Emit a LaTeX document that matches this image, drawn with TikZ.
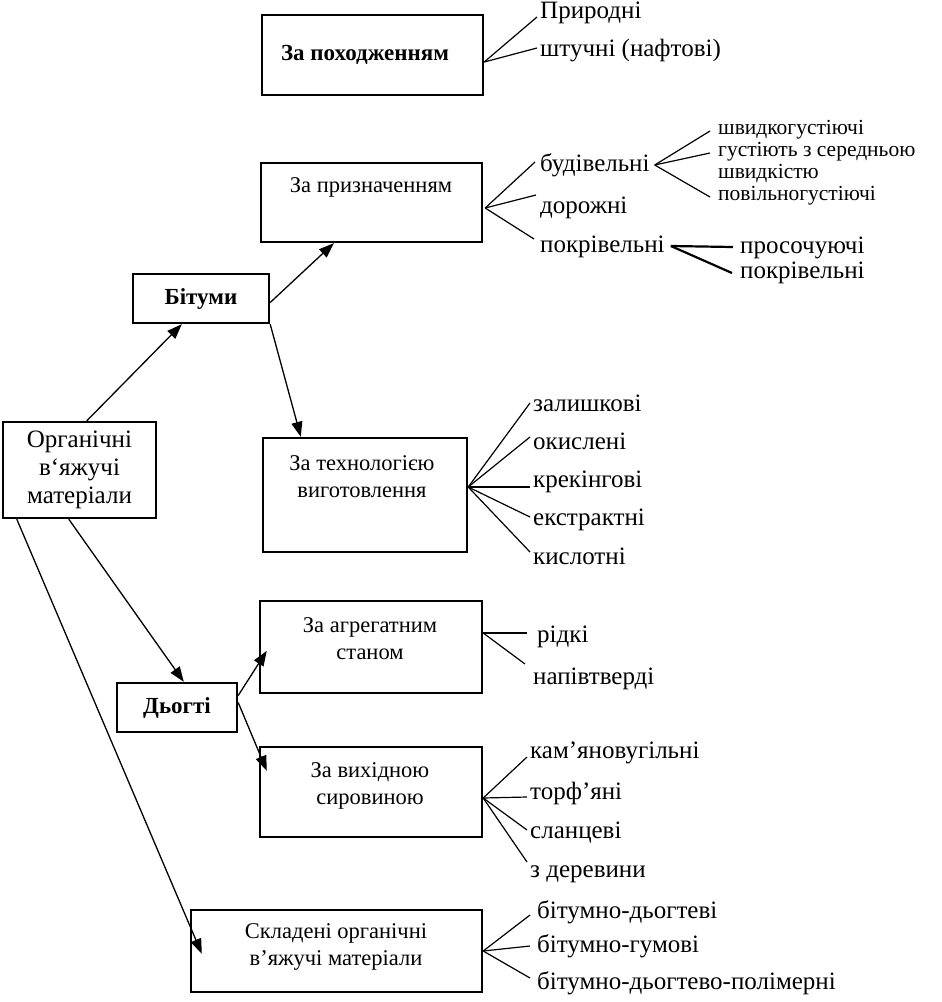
\documentclass[tikz,border=0pt]{standalone}
\usepackage{fontspec}
\setmainfont{Liberation Serif}
\usetikzlibrary{arrows.meta,calc}
\begin{document}
\begin{tikzpicture}[x=1pt,y=-1pt,
 box/.style={draw,line width=2.4pt,inner sep=0pt},
 btext/.style={font=\fontsize{22.5}{27}\selectfont,align=center,inner sep=0pt},
 bbold/.style={font=\fontsize{23}{27}\selectfont\bfseries},
 leaf/.style={font=\fontsize{25}{25}\selectfont,anchor=west,inner sep=0pt,text height=17pt,text depth=5pt},
 small/.style={font=\fontsize{21.5}{21.5}\selectfont,text height=14pt,text depth=4pt},
 conn/.style={line width=1.2pt},
 thk/.style={line width=2.2pt},
 arr/.style={line width=1.3pt,-{Triangle[length=15pt,width=11pt]}}]
\useasboundingbox (0,0) rectangle (942,1002);

% boxes
\node[box,minimum width=221pt,minimum height=80pt] (poh) at (372.5,55) {};
\node[btext,bbold] (pohT) at (365,55) {За походженням};
\node[box,minimum width=221pt,minimum height=79pt] (pryzn) at (371.5,202.5) {};
\node[btext] (pryznT) at (371,187) {За призначенням};
\node[box,minimum width=136pt,minimum height=49pt,btext,bbold] (bit) at (201,298.5) {Бітуми};
\node[box,minimum width=153pt,minimum height=96pt,btext,font=\fontsize{25}{28}\selectfont] (org) at (79.5,470) {Органічні\\в`яжучі\\матеріали};
\node[box,minimum width=204pt,minimum height=114pt] (tech) at (365,495) {};
\node[btext] (techT) at (362,477) {За технологією\\виготовлення};
\node[box,minimum width=120pt,minimum height=49pt,btext,bbold] (dog) at (177,707.5) {Дьогті};
\node[box,minimum width=222pt,minimum height=92pt] (agr) at (371,647) {};
\node[btext] (agrT) at (370,639) {За агрегатним\\станом};
\node[box,minimum width=222pt,minimum height=90pt] (vykh) at (371,792) {};
\node[btext] (vykhT) at (370,786) {За вихідною\\сировиною};
\node[box,minimum width=291pt,minimum height=82pt] (sklad) at (336.5,951) {};
\node[btext] (skladT) at (336,947) {Складені органічні\\в’яжучі матеріали};

% leaves
\node[leaf] (p1) at (540,12) {Природні};
\node[leaf] (p2) at (540,50) {штучні (нафтові)};
\node[leaf] (n1) at (540,165) {будівельні};
\node[leaf] (n2) at (540,207) {дорожні};
\node[leaf] (n3) at (540,246) {покрівельні};
\node[leaf,small] (s1) at (718,129) {швидкогустіючі};
\node[leaf,small] (s2) at (718,151) {густіють з середньою};
\node[leaf,small] (s3) at (718,173) {швидкістю};
\node[leaf,small] (s4) at (718,195) {повільногустіючі};
\node[leaf] (r1) at (740,247) {просочуючі};
\node[leaf] (r2) at (740,272) {покрівельні};
\node[leaf] (t1) at (533,405) {залишкові};
\node[leaf] (t2) at (533,443) {окислені};
\node[leaf] (t3) at (533,481) {крекінгові};
\node[leaf] (t4) at (533,519) {екстрактні};
\node[leaf] (t5) at (533,558) {кислотні};
\node[leaf] (a1) at (537,636) {рідкі};
\node[leaf] (a2) at (533,678) {напівтверді};
\node[leaf] (v1) at (530,752) {кам’яновугільні};
\node[leaf] (v2) at (530,793) {торф’яні};
\node[leaf] (v3) at (530,832) {сланцеві};
\node[leaf] (v4) at (530,871) {з деревини};
\node[leaf] (k1) at (537,912) {бітумно-дьогтеві};
\node[leaf] (k2) at (537,946) {бітумно-гумові};
\node[leaf] (k3) at (537,983) {бітумно-дьогтево-полімерні};

% branch points
\coordinate (vpoh) at ([yshift=-7pt]poh.east);
\coordinate (vpr) at ([xshift=2pt,yshift=-5.5pt]pryzn.east);
\coordinate (vbud) at ([xshift=5pt]n1.east);
\coordinate (vpok) at ([xshift=6pt]n3.east);
\coordinate (vtech) at ([yshift=8pt]tech.east);
\coordinate (vagr) at ([yshift=14pt]agr.east);
\coordinate (vvykh) at ([yshift=-6pt]vykh.east);
\coordinate (vsk) at (sklad.east);

% leaf connectors
\draw[conn] (vpoh) -- ([xshift=-3pt,yshift=-5pt]p1.west);
\draw[conn] (vpoh) -- ([xshift=-3pt,yshift=2pt]p2.west);
\draw[conn] (vpr) -- ([xshift=-5pt,yshift=3pt]n1.west);
\draw[conn] (vpr) -- ([xshift=-4pt,yshift=12pt]n2.west);
\draw[conn] (vpr) -- ([xshift=-6pt,yshift=7pt]n3.west);
\draw[conn] (vbud) -- ([xshift=-8pt,yshift=-2pt]s1.west);
\draw[conn] (vbud) -- ([xshift=-8pt,yshift=-2pt]s2.west);
\draw[conn] (vbud) -- ([xshift=-8pt,yshift=-2pt]s4.west);
\draw[thk] (vpok) -- ([xshift=-7pt]r1.west);
\draw[thk] (vpok) -- ([xshift=-8pt,yshift=-1pt]r2.west);
\draw[conn] (vtech) -- ([xshift=-3pt,yshift=2pt]t1.west);
\draw[conn] (vtech) -- ([xshift=-3pt,yshift=6pt]t2.west);
\draw[conn] (vtech) -- ([xshift=-3pt,yshift=-6pt]t3.west);
\draw[conn] (vtech) -- ([xshift=-3pt,yshift=2pt]t4.west);
\draw[conn] (vtech) -- ([xshift=-3pt,yshift=6pt]t5.west);
\draw[conn] (vagr) -- ([xshift=-10pt,yshift=3pt]a1.west);
\draw[conn] (vagr) -- ([xshift=-8pt,yshift=14pt]a2.west);
\draw[conn] (vvykh) -- ([xshift=-3pt,yshift=-5pt]v1.west);
\draw[conn] (vvykh) -- ([xshift=-3pt,yshift=-4pt]v2.west);
\draw[conn] (vvykh) -- ([xshift=-3pt,yshift=2pt]v3.west);
\draw[conn] (vvykh) -- ([xshift=-3pt,yshift=9pt]v4.west);
\draw[conn] (vsk) -- ([xshift=-7pt,yshift=-3pt]k1.west);
\draw[conn] (vsk) -- ([xshift=-7pt]k2.west);
\draw[conn] (vsk) -- ([xshift=-7pt,yshift=5pt]k3.west);

% arrows
\draw[arr] ([xshift=85pt]org.north west) -- ([xshift=50pt]bit.south west);
\draw[arr] (bit.south east) -- ([xshift=39pt]tech.north west);
\draw[arr] ([yshift=-4pt]bit.east) -- ([xshift=74pt]pryzn.south west);
\draw[arr] ([xshift=67pt]org.south west) -- ([xshift=68pt]dog.north west);
\draw[arr] ([xshift=15pt]org.south west) -- ([xshift=12pt,yshift=-45pt]sklad.north west);
\draw[arr] ([yshift=12pt]dog.east) -- ([xshift=8pt,yshift=-51pt]agr.north west);
\draw[arr] ([yshift=5pt]dog.east) -- ([xshift=8pt,yshift=-25pt]vykh.north west);
\end{tikzpicture}
\end{document}
